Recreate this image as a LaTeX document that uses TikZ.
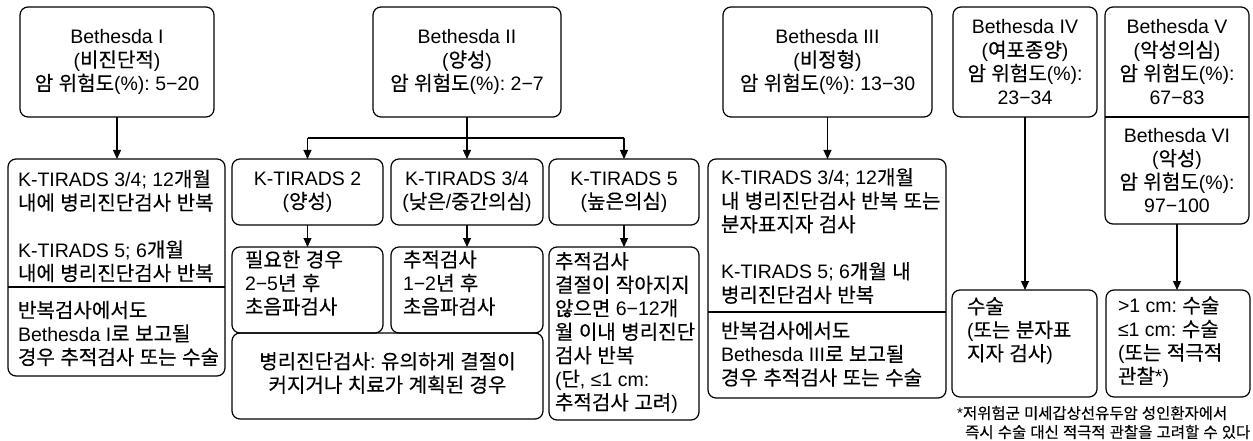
\documentclass[tikz,border=0pt]{standalone}
\usepackage{fontspec}
\setmainfont{Liberation Sans}
\newfontfamily\krfont{Noto Sans CJK KR}[Scale=1.03,FakeBold=0.3]
\usetikzlibrary{arrows.meta}
\frenchspacing
\XeTeXinterchartokenstate=1
\newXeTeXintercharclass\krclass
\count255="AC00
\loop
\XeTeXcharclass\count255=\krclass
\advance\count255 by 1
\ifnum\count255<"D7A4 \repeat
\XeTeXinterchartoks 0 \krclass = {\krfont}
\XeTeXinterchartoks 4095 \krclass = {\krfont}
\XeTeXinterchartoks \krclass 0 = {\rmfamily}
\XeTeXinterchartoks \krclass 4095 = {\rmfamily}
\newcommand\mkbox[5]{\node[box, anchor=north west, minimum width={#4-#2}, minimum height={#5-#3}] (#1) at (#2,#3) {};}
\tikzset{
  box/.style={draw, line width=1.2pt, rounded corners=8pt, inner sep=0pt, outer sep=0pt},
  lbl/.style={inner sep=0pt, outer sep=0pt, font=\fontsize{19.5}{23.5}\selectfont\frenchspacing},
  cen/.style={lbl, align=center},
  lft/.style={lbl, align=left, anchor=west},
  note/.style={inner sep=0pt, align=left, anchor=west, font=\fontsize{15}{19}\selectfont\frenchspacing},
  ln/.style={line width=1.2pt},
  arr/.style={line width=1.2pt, -{Triangle[length=9pt,width=8pt]}}
}
\begin{document}
\begin{tikzpicture}[x=1pt,y=-1pt]
\path[fill=white,use as bounding box] (0,0) rectangle (1253,441);
% top boxes
\mkbox{B1}{20}{7}{214}{117}
\mkbox{B2}{373}{7}{561}{117}
\mkbox{B3}{723}{7}{932}{117}
\mkbox{B4}{953}{7}{1097}{117}
\mkbox{B56}{1105}{7}{1249}{224}
% second level
\mkbox{L1}{8}{159}{225}{376}
\mkbox{K2}{232}{159}{383}{225}
\mkbox{K34}{391}{159}{543}{225}
\mkbox{K5}{549}{159}{699}{225}
\mkbox{F2}{232}{247}{383}{333}
\mkbox{F34}{391}{247}{543}{333}
\mkbox{BOT}{232}{333}{543}{419}
\mkbox{F5}{549}{247}{699}{420}
\mkbox{L3}{708}{159}{946}{398}
\mkbox{S4}{952}{290}{1097}{397}
\mkbox{S56}{1106}{290}{1250}{397}
% dividers
\coordinate (d1) at (0,287);
\coordinate (d3) at (0,312);
\coordinate (d56) at (0,117);
\draw[ln] (L1.west |- d1) -- (L1.east |- d1);
\draw[ln] (L3.west |- d3) -- (L3.east |- d3);
\draw[ln] (B56.west |- d56) -- (B56.east |- d56);
% texts
\node[cen] (tB1) at (B1.center) {Bethesda I\\(비진단적)\\암 위험도(\%): 5−20};
\node[cen] (tB2) at (B2.center) {Bethesda II\\(양성)\\암 위험도(\%): 2−7};
\node[cen] (tB3) at (B3.center) {Bethesda III\\(비정형)\\암 위험도(\%): 13−30};
\node[cen] (tB4) at (B4.center) {Bethesda IV\\(여포종양)\\암 위험도(\%):\\23−34};
\node[cen] (tB5) at (1177,62) {Bethesda V\\(악성의심)\\암 위험도(\%):\\67−83};
\node[cen] (tB6) at (1177,170.5) {Bethesda VI\\(악성)\\암 위험도(\%):\\97−100};
\node[lft] (tL1a) at (18,226) {K-TIRADS 3/4; 12개월\\내에 병리진단검사 반복\\[23.5pt]K-TIRADS 5; 6개월\\내에 병리진단검사 반복};
\node[lft] (tL1b) at (18,333.5) {반복검사에서도\\Bethesda I로 보고될\\경우 추적검사 또는 수술};
\node[cen] (tK2) at (K2.center) {K-TIRADS 2\\(양성)};
\node[cen] (tK34) at (K34.center) {K-TIRADS 3/4\\(낮은/중간의심)};
\node[cen] (tK5) at (K5.center) {K-TIRADS 5\\(높은의심)};
\node[lft] (tF2) at (245,283) {필요한 경우\\2−5년 후\\초음파검사};
\node[lft] (tF34) at (403,283) {추적검사\\1−2년 후\\초음파검사};
\node[cen] (tBOT) at (387.5,373) {병리진단검사: 유의하게 결절이\\커지거나 치료가 계획된 경우};
\node[lft] (tF5) at (555,333) {추적검사\\결절이 작아지지\\않으면 6−12개\\월 이내 병리진단\\검사 반복\\(단, ≤1 cm:\\추적검사 고려)};
\node[lft] (tL3a) at (721,236) {K-TIRADS 3/4; 12개월\\내 병리진단검사 반복 또는\\분자표지자 검사\\[23.5pt]K-TIRADS 5; 6개월 내\\병리진단검사 반복};
\node[lft] (tL3b) at (721,354) {반복검사에서도\\Bethesda III로 보고될\\경우 추적검사 또는 수술};
\node[lft] (tS4) at (967,331) {수술\\(또는 분자표\\지자 검사)};
\node[lft] (tS56) at (1118,342) {>1 cm: 수술\\≤1 cm: 수술\\(또는 적극적\\관찰*)};
\node[note] (fn) at (957,422.5) {*저위험군 미세갑상선유두암 성인환자에서\\\hspace*{8pt}즉시 수술 대신 적극적 관찰을 고려할 수 있다};
% connectors
\coordinate (j2) at (0,138);
\draw[arr] (B1.south) -- (B1.south |- L1.north);
\draw[ln] (B2.south) -- (B2.south |- j2);
\draw[ln] (K2.north |- j2) -- (K5.north |- j2);
\draw[arr] (K2.north |- j2) -- (K2.north);
\draw[arr] (K34.north |- j2) -- (K34.north);
\draw[arr] (K5.north |- j2) -- (K5.north);
\draw[arr] (K2.south) -- (F2.north);
\draw[arr] (K34.south) -- (F34.north);
\draw[arr] (K5.south) -- (F5.north);
\draw[arr] (B3.south) -- (B3.south |- L3.north);
\draw[arr] (B4.south) -- (B4.south |- S4.north);
\draw[arr] (B56.south) -- (B56.south |- S56.north);
\end{tikzpicture}
\end{document}
